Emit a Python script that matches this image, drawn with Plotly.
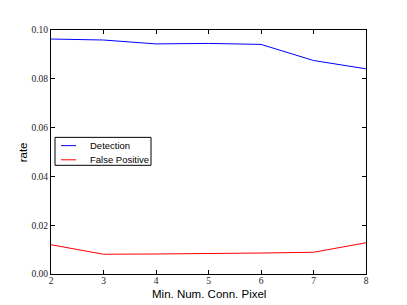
import plotly.graph_objects as go

x_vals = [2, 3, 4, 5, 6, 7, 8]
detection = [0.0963, 0.0959, 0.0943, 0.0945, 0.0941, 0.0875, 0.0841]
false_positive = [0.0120, 0.0081, 0.0082, 0.0083, 0.0086, 0.0089, 0.0128]
series_names = ["Detection", "False Positive"]
series_colors = ["#0000ff", "#ff0000"]
y_ticks = [0.0, 0.02, 0.04, 0.06, 0.08, 0.10]
y_tick_labels = ["0.00", "0.02", "0.04", "0.06", "0.08", "0.10"]
x_title = "Min. Num. Conn. Pixel"
y_title = "rate"

fig = go.Figure()
for name, vals, col in zip(series_names, [detection, false_positive], series_colors):
    fig.add_trace(go.Scatter(x=x_vals, y=vals, mode="lines", name=name,
                             line=dict(color=col, width=1), showlegend=False))

axis_common = dict(showgrid=False, zeroline=False, showline=True, linecolor="black",
                   linewidth=1, mirror="ticks", ticks="inside", ticklen=4,
                   tickcolor="black", automargin=False,
                   tickfont=dict(family="Liberation Serif", size=9.5, color="#222222"))

fig.update_layout(
    width=399, height=297,
    margin=dict(l=43, r=41, t=22, b=31),
    paper_bgcolor="white", plot_bgcolor="white",
    xaxis=dict(range=[2, 8], tickvals=x_vals, ticktext=[str(v) for v in x_vals],
               ticklabelstandoff=-2, **axis_common),
    yaxis=dict(range=[0, 0.10], tickvals=y_ticks, ticktext=y_tick_labels, **axis_common),
    showlegend=False,
)

title_font = dict(family="Liberation Sans", size=11.5, color="black")
fig.add_annotation(xref="paper", yref="paper", x=0.5, y=0, yshift=-19.5, text=x_title,
                   showarrow=False, xanchor="center", yanchor="middle", font=title_font)
fig.add_annotation(xref="paper", yref="paper", x=0, y=0.5, xshift=-27.7, text=y_title,
                   textangle=-90, showarrow=False, xanchor="center", yanchor="middle",
                   font=title_font)

# legend drawn as box + line samples + text (paper coords relative to plot area)
lx0, lx1, ly0, ly1 = 0.0127, 0.3175, 0.4455, 0.560
fig.add_shape(type="rect", xref="paper", yref="paper", x0=lx0, x1=lx1, y0=ly0, y1=ly1,
              line=dict(color="black", width=1), fillcolor="white", layer="above")
row_y = [0.526, 0.468]
for name, col, yy in zip(series_names, series_colors, row_y):
    fig.add_shape(type="line", xref="paper", yref="paper", x0=0.0317, x1=0.0794, y0=yy, y1=yy,
                  line=dict(color=col, width=1), layer="above")
    fig.add_annotation(xref="paper", yref="paper", x=0.1165, y=yy, text=name, showarrow=False,
                       xanchor="left", yanchor="middle",
                       font=dict(family="Liberation Sans", size=9.5, color="black"))

fig.write_html("out.html")
